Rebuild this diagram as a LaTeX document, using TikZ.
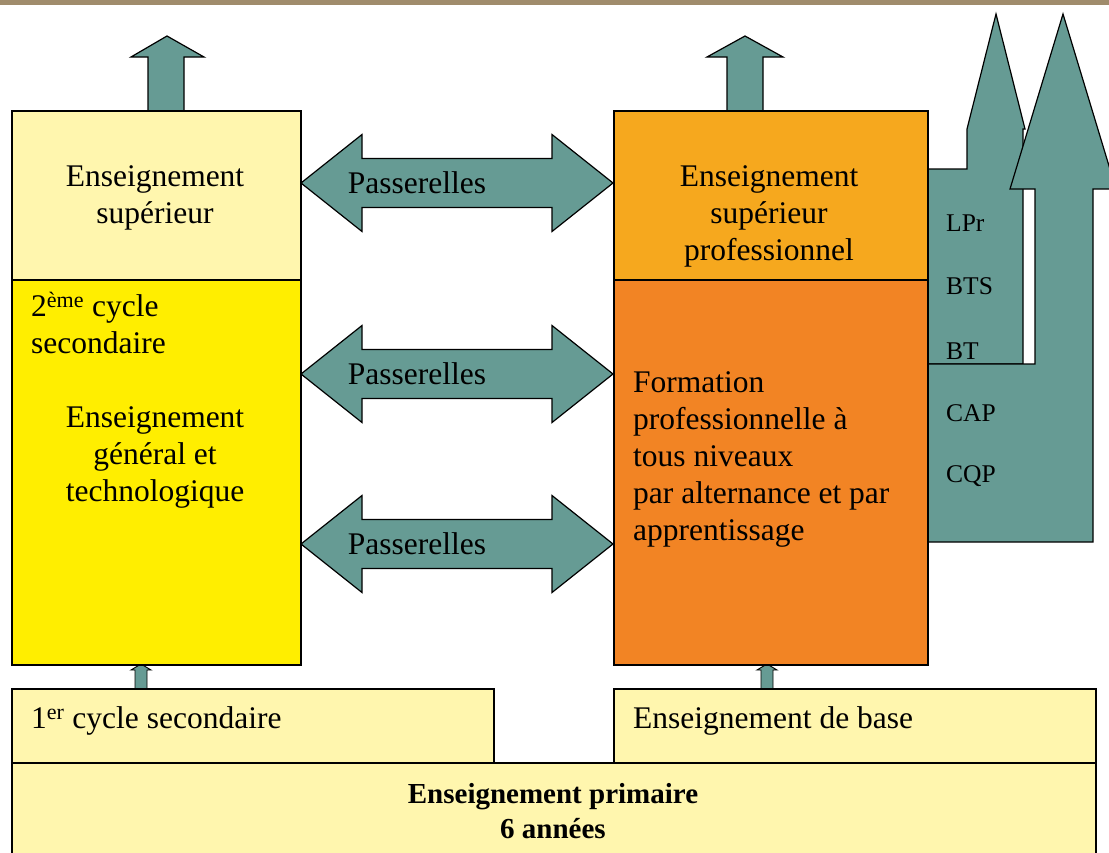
\documentclass[tikz,border=0pt]{standalone}
\usepackage{fontspec}
\setmainfont{Liberation Serif}
\definecolor{arrowgreen}{HTML}{669B94}
\definecolor{paleyellow}{HTML}{FFF6AE}
\definecolor{brightyellow}{HTML}{FFEE00}
\definecolor{lightorange}{HTML}{F6A81E}
\definecolor{darkorange}{HTML}{F28424}
\definecolor{topband}{HTML}{A08C6C}
\begin{document}
\begin{tikzpicture}[x=1pt,y=-1pt,
  box/.style={draw=black, line width=1.5pt, inner sep=0pt, anchor=north west},
  garrow/.style={fill=arrowgreen, draw=black, line width=1.2pt, line join=miter},
  lbl/.style={inner sep=0pt, font=\fontsize{31.5}{37}\selectfont},
  smalllbl/.style={inner sep=0pt, anchor=west, font=\fontsize{25.5}{28}\selectfont}]
\useasboundingbox (0,0) rectangle (1109,852);
\clip (0,0) rectangle (1109,852);
\fill[white] (0,0) rectangle (1109,852);
\fill[topband] (0,0) rectangle (1109,5);

% bent-up arrows on the right
\draw[garrow] (920,169) -- (967,169) -- (967,129) -- (996,14) -- (1025,129) -- (1023,129) -- (1023,364) -- (920,364) -- cycle;
\draw[garrow] (920,364) -- (1035,364) -- (1035,189) -- (1010,189) -- (1063,14) -- (1116,189) -- (1093,189) -- (1093,542) -- (920,542) -- cycle;

% up arrows at the top
\draw[garrow] (148,115) -- (148,57) -- (131,57) -- (167,36) -- (204,57) -- (184,57) -- (184,115);
\draw[garrow] (727,115) -- (727,57) -- (707,57) -- (745,36) -- (783,57) -- (763,57) -- (763,115);

% small up arrows at the bottom
\draw[garrow, line width=0.9pt] (135,692) -- (135,670) -- (131,670) -- (141,664) -- (151,670) -- (147,670) -- (147,692);
\draw[garrow, line width=0.9pt] (761,692) -- (761,670) -- (757,670) -- (767,664) -- (777,670) -- (773,670) -- (773,692);

% boxes
\node[box, fill=paleyellow, minimum width=289pt, minimum height=169pt] (es) at (11,110) {};
\node[box, fill=brightyellow, minimum width=289pt, minimum height=385pt] (egt) at (11,279) {};
\node[box, fill=lightorange, minimum width=314pt, minimum height=169pt] (esp) at (613,110) {};
\node[box, fill=darkorange, minimum width=314pt, minimum height=385pt] (fp) at (613,279) {};
\node[box, fill=paleyellow, minimum width=482pt, minimum height=74pt] (pc) at (11,688) {};
\node[box, fill=paleyellow, minimum width=482pt, minimum height=74pt] (eb) at (613,688) {};
\node[box, fill=paleyellow, minimum width=1084pt, minimum height=130pt] (prim) at (11,762) {};

% passerelles
\foreach \c/\n in {183/pa,374/pb,544/pc2}{
  \draw[garrow] (301,\c) -- (362,\c-48.5) -- (362,\c-24.5) -- (552,\c-24.5) -- (552,\c-48.5)
    -- (613,\c) -- (552,\c+48.5) -- (552,\c+24.5) -- (362,\c+24.5) -- (362,\c+48.5) -- cycle;
  \node[lbl] (\n) at (417,\c) {Passerelles};
}

% texts
\node[lbl, align=center] (tes) at (155,198) {Enseignement\\supérieur};
\node[lbl, align=left, anchor=west] (tcyc) at (31,323) {2\textsuperscript{ème} cycle\\secondaire};
\node[lbl, align=center] (tegt) at (155,457) {Enseignement\\général et\\technologique};
\node[lbl, align=center] (tesp) at (769,216) {Enseignement\\supérieur\\professionnel};
\node[lbl, align=left, anchor=west] (tfp) at (633,459) {Formation\\professionnelle à\\tous niveaux\\par alternance et par\\apprentissage};
\node[lbl, anchor=west] (tpc) at (31,721) {1\textsuperscript{er} cycle secondaire};
\node[lbl, anchor=west] (teb) at (633,721) {Enseignement de base};
\node[lbl, align=center, font=\fontsize{29}{35}\selectfont\bfseries] (tprim) at (553,811) {Enseignement primaire\\6 années};

\node[smalllbl] (lpr) at (946,223) {LPr};
\node[smalllbl] (bts) at (946,286) {BTS};
\node[smalllbl] (bt) at (946,351) {BT};
\node[smalllbl] (cap) at (946,413) {CAP};
\node[smalllbl] (cqp) at (946,476) {CQP};
\end{tikzpicture}
\end{document}
